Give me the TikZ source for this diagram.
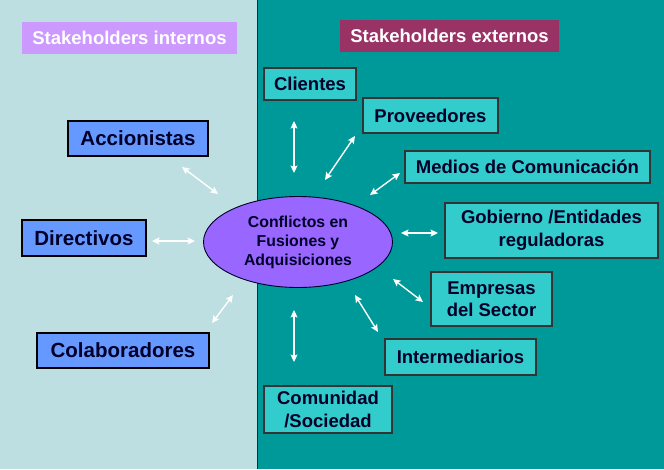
\documentclass[tikz,border=0pt]{standalone}
\usepackage{fontspec}
\setmainfont{Liberation Sans}
\usetikzlibrary{shapes.geometric, arrows.meta}
\definecolor{fondoint}{RGB}{190,223,226}
\definecolor{fondoext}{RGB}{0,153,153}
\definecolor{lila}{RGB}{204,153,255}
\definecolor{vino}{RGB}{153,51,102}
\definecolor{azul}{RGB}{102,153,255}
\definecolor{turquesa}{RGB}{51,204,204}
\definecolor{morado}{RGB}{153,102,255}
\definecolor{tinta}{RGB}{0,0,40}
\tikzstyle{titulo} = [rectangle, inner sep=0pt, text=white, font=\bfseries\fontsize{18.5}{22}\selectfont]
\tikzstyle{interno} = [rectangle, inner sep=0pt, draw=black, line width=1.1pt, fill=azul, text=tinta, font=\bfseries\fontsize{20.5}{24}\selectfont]
\tikzstyle{externo} = [rectangle, inner sep=0pt, draw=black!80, line width=1.1pt, fill=turquesa, text=tinta, align=center, font=\bfseries\fontsize{18.5}{22.5}\selectfont]
\tikzstyle{conflicto} = [ellipse, inner sep=0pt, draw=tinta, line width=0.9pt, fill=morado, text=tinta, align=center, font=\bfseries\fontsize{15.8}{19}\selectfont]
\tikzstyle{flecha} = [white, line width=1.4pt, <->, >={Stealth[length=7.5pt, width=7pt, inset=1.5pt]}]
\begin{document}
\begin{tikzpicture}[x=1pt, y=-1pt]
\useasboundingbox (0,0) rectangle (664,469);
% fondo
\fill[fondoint] (0,0) rectangle (257,469);
\fill[fondoext] (257,0) rectangle (664,469);
\draw[black!85, line width=1pt] (257,0) -- (257,469);

% titulos
\node (tint) [titulo, fill=lila, minimum width=215pt, minimum height=32pt] at (129.5,38) {Stakeholders internos};
\node (text) [titulo, fill=vino, minimum width=219pt, minimum height=32pt] at (449.5,36) {Stakeholders externos};

% centro
\node (conf) [conflicto, minimum width=189pt, minimum height=91pt] at (298,242) {Conflictos en\\Fusiones y\\Adquisiciones};

% internos
\node (acc) [interno, minimum width=140pt, minimum height=35pt] at (138,138.5) {Accionistas};
\node (dir) [interno, minimum width=124pt, minimum height=36pt] at (84,238) {Directivos};
\node (col) [interno, minimum width=172pt, minimum height=35pt] at (123,350.5) {Colaboradores};

% externos
\node (cli) [externo, minimum width=92pt, minimum height=32pt] at (310,84) {Clientes};
\node (pro) [externo, minimum width=135pt, minimum height=35pt] at (430.5,115.5) {Proveedores};
\node (med) [externo, minimum width=245pt, minimum height=32pt] at (527.5,167) {Medios de Comunicación};
\node (gob) [externo, minimum width=213pt, minimum height=55pt] at (551.5,230.5) {Gobierno /Entidades\\reguladoras};
\node (emp) [externo, minimum width=121pt, minimum height=54pt] at (491.5,299) {Empresas\\del Sector};
\node (int) [externo, minimum width=151pt, minimum height=36pt] at (460.5,357) {Intermediarios};
\node (com) [externo, minimum width=128pt, minimum height=47pt] at (328,409.5) {Comunidad\\/Sociedad};

% extremos de las flechas
\coordinate (accA) at (182,167);
\coordinate (accB) at (218,194);
\coordinate (dirA) at (152,241);
\coordinate (dirB) at (195,241);
\coordinate (colA) at (212,323);
\coordinate (colB) at (233,295);
\coordinate (cliA) at (294,121);
\coordinate (cliB) at (294,173);
\coordinate (proA) at (325,180);
\coordinate (proB) at (355,136);
\coordinate (medA) at (370,195);
\coordinate (medB) at (400,173);
\coordinate (gobA) at (401,233);
\coordinate (gobB) at (438,233);
\coordinate (empA) at (393,279);
\coordinate (empB) at (423,302);
\coordinate (intA) at (355,295);
\coordinate (intB) at (378,332);
\coordinate (comA) at (294,310);
\coordinate (comB) at (294,362);

\draw [flecha] (accA) -- (accB);
\draw [flecha] (dirA) -- (dirB);
\draw [flecha] (colA) -- (colB);
\draw [flecha] (cliA) -- (cliB);
\draw [flecha] (proA) -- (proB);
\draw [flecha] (medA) -- (medB);
\draw [flecha] (gobA) -- (gobB);
\draw [flecha] (empA) -- (empB);
\draw [flecha] (intA) -- (intB);
\draw [flecha] (comA) -- (comB);

\end{tikzpicture}
\end{document}
